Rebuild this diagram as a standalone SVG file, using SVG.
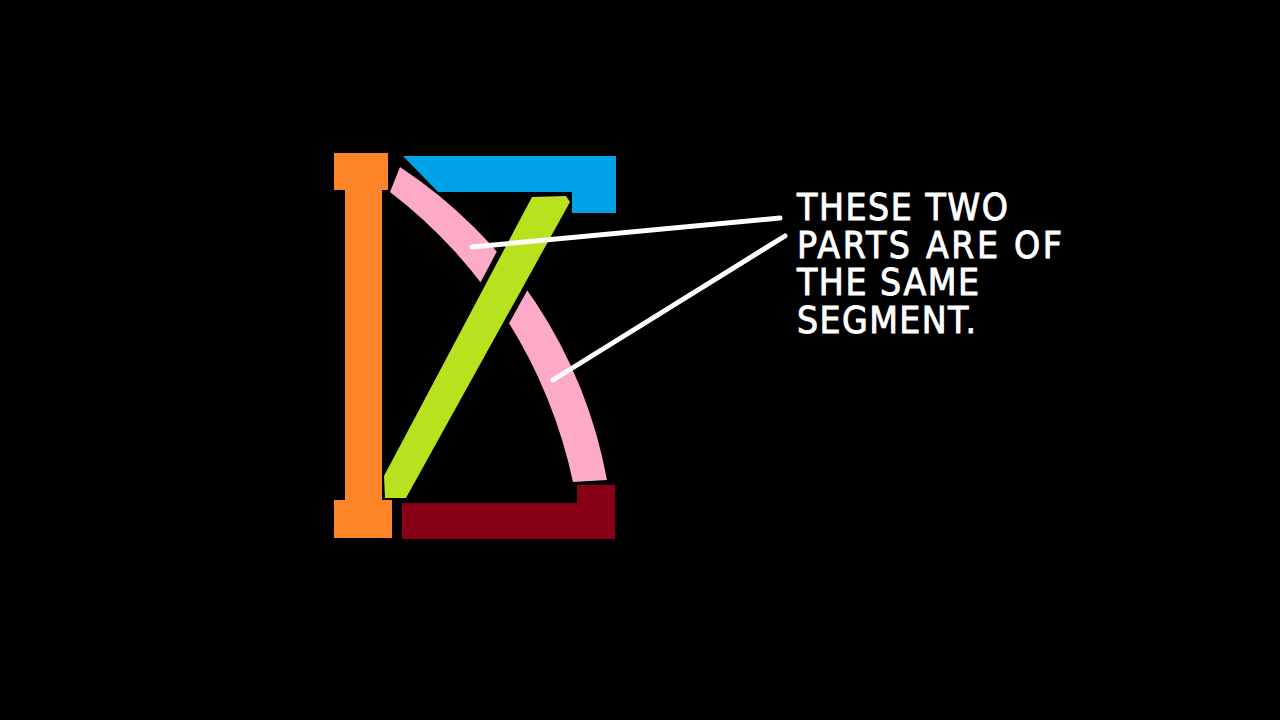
<svg xmlns="http://www.w3.org/2000/svg" width="1280" height="720" viewBox="0 0 1280 720">
<style>
.lbl{font-family:"DejaVu Sans Condensed","DejaVu Sans","Liberation Sans",sans-serif;font-stretch:condensed;font-size:37px;fill:#ffffff;stroke:#ffffff;stroke-width:0.9;}
.lead{stroke:#ffffff;stroke-width:5;stroke-linecap:round;fill:none;}
</style>
<rect width="1280" height="720" fill="#000000"/>
<g id="pink">
<path d="M400,167 A478,478 0 0 1 607,480 L573,482 A495,495 0 0 0 390,192 Z" fill="#fcaac8"/>
</g>
<g id="green">
<path d="M532,197 L566,196 L570,202 L406,498 L385,498 L384,476 Z" fill="#b8e21e" stroke="#000000" stroke-width="11" stroke-linejoin="round" paint-order="stroke"/>
</g>
<g id="orange">
<path d="M334,153 L388,153 L388,190 L382,190 L382,500 L392,500 L392,538 L334,538 L334,500 L345,500 L345,190 L334,190 Z" fill="#fe8527"/>
</g>
<g id="blue">
<path d="M403,156 L616,156 L616,213 L572,213 L572,192 L438,192 Z" fill="#00a2e8"/>
</g>
<g id="maroon">
<path d="M402,503 L577,503 L577,485 L615,485 L615,539 L402,539 Z" fill="#880015"/>
</g>
<g id="connectors">
<line class="lead" x1="472" y1="247" x2="780" y2="218"/>
<line class="lead" x1="553" y1="380" x2="785" y2="236"/>
</g>
<g id="label">
<text class="lbl" x="797" y="220" textLength="211" lengthAdjust="spacing">THESE TWO</text>
<text class="lbl" x="797" y="258" textLength="265" lengthAdjust="spacing">PARTS ARE OF</text>
<text class="lbl" x="797" y="295" textLength="182" lengthAdjust="spacing">THE SAME</text>
<text class="lbl" x="797" y="333" textLength="179" lengthAdjust="spacing">SEGMENT.</text>
</g>
</svg>
